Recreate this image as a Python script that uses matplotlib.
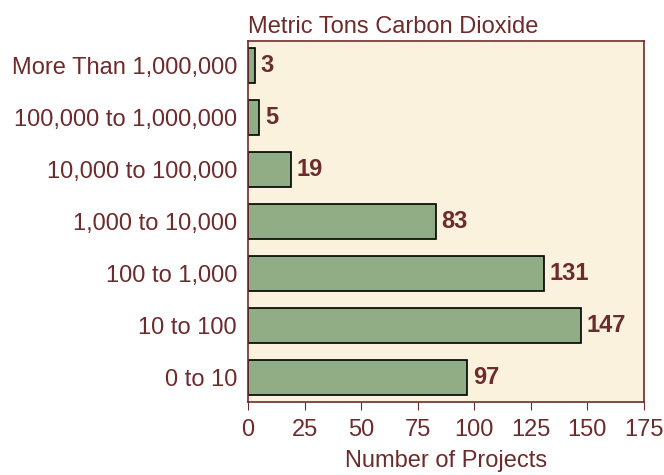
import matplotlib
matplotlib.use("Agg")
import matplotlib.pyplot as plt

categories = ["0 to 10", "10 to 100", "100 to 1,000", "1,000 to 10,000",
              "10,000 to 100,000", "100,000 to 1,000,000", "More Than 1,000,000"]
projects = [97, 147, 131, 83, 19, 5, 3]
xticks = [0, 25, 50, 75, 100, 125, 150, 175]

maroon = "#6E2B2B"
plt.rcParams["font.family"] = ["Liberation Sans", "DejaVu Sans"]

fig = plt.figure(figsize=(6.64, 4.75), dpi=100)
ax = fig.add_axes([248 / 664, 1 - 402 / 475, (644 - 248) / 664, (402 - 41) / 475])
ax.set_facecolor("#FAF2DC")

ypos = range(len(categories))
ax.barh(ypos, projects, height=0.69, color="#90AD86", edgecolor="black", linewidth=1.2)
for y, v in zip(ypos, projects):
    ax.annotate(str(v), (v, y), xytext=(4, 0), textcoords="offset points",
                va="center", ha="left", fontsize=17, fontweight="bold", color=maroon)

ax.set_xlim(0, 175)
ax.set_ylim(-0.47, len(categories) - 0.53)
ax.set_yticks(list(ypos))
ax.set_yticklabels(categories)
ax.set_xticks(xticks)
ax.tick_params(axis="y", length=0, pad=8, labelsize=17, labelcolor=maroon)
ax.tick_params(axis="x", direction="out", length=6, color=maroon, labelsize=17,
               labelcolor=maroon, pad=6)
for s in ax.spines.values():
    s.set_color(maroon)
    s.set_linewidth(1.2)

ax.set_xlabel("Number of Projects", fontsize=17, color=maroon, labelpad=7)
ax.set_title("Metric Tons Carbon Dioxide", loc="left", fontsize=17, color=maroon, pad=6)

fig.savefig("out.png", dpi=100)
